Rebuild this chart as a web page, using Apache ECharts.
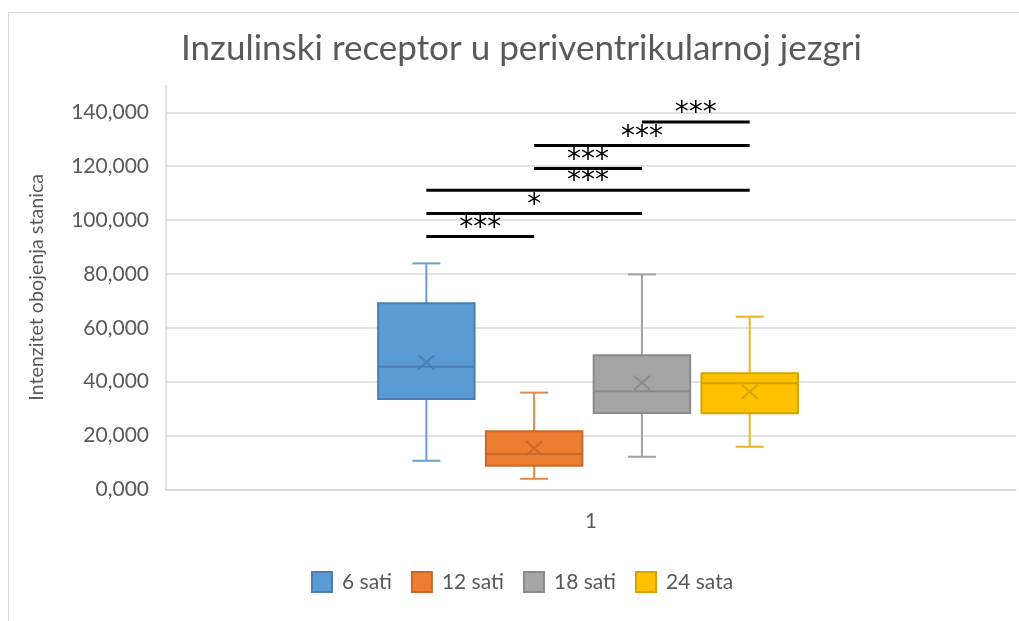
<!DOCTYPE html>
<html><head><meta charset="utf-8">
<script src="https://cdn.jsdelivr.net/npm/echarts@6/dist/echarts.min.js"></script>
<style>html,body{margin:0;padding:0;background:#fff}#c{width:1019px;height:621px}</style>
</head><body><div id="c"></div>
<script>
// ---- data ----
const categories = ['1'];
const seriesNames = ['6 sati', '12 sati', '18 sati', '24 sata'];
const minVals    = [10.6, 3.9, 12.1, 15.8];
const q1Vals     = [33.5, 8.7, 28.3, 28.2];
const medianVals = [45.5, 13.1, 36.4, 39.4];
const q3Vals     = [69.1, 21.6, 49.8, 43.1];
const maxVals    = [83.9, 35.9, 79.8, 64.1];
const meanVals   = [47.2, 15.2, 39.6, 36.2];
const yMin = 0, yMax = 150, yInterval = 20;
// significance brackets
const sigFrom  = [0, 0, 0, 1, 1, 2];
const sigTo    = [1, 2, 3, 2, 3, 3];
const sigLevel = [93.9, 102.4, 111.1, 119.1, 127.7, 136.4];
const sigLabel = ['***', '*', '***', '***', '***', '***'];

// ---- styles ----
const fills   = ['#5B9BD5', '#ED7D31', '#A5A5A5', '#FFC000'];
const borders = ['#4A7FB4', '#C9692A', '#8A8A8A', '#D6A200'];
const whisk   = ['#6A9DCF', '#E08A50', '#A0A0A0', '#E8B420'];
const SPACING = 0.1268, BOXW = 0.1135, CAPW = 0.033, SHIFT = -0.0035;

function centerX(api, i) {
  const band = api.size([1, 0])[0];
  return api.coord([0, 0])[0] + ((i - 1.5) * SPACING + SHIFT) * band;
}

function boxRender(i) {
  return function (params, api) {
    const band = api.size([1, 0])[0];
    const cx = centerX(api, i);
    const bw = BOXW * band, cap = CAPW * band;
    const y = k => api.coord([0, api.value(k)])[1];
    const yMn = y(1), yQ1 = y(2), yMd = y(3), yQ3 = y(4), yMx = y(5), yMe = y(6);
    const ln = (x1, y1, x2, y2, c, w) => ({ type: 'line', shape: { x1, y1, x2, y2 }, style: { stroke: c, lineWidth: w } });
    const xs = 8, ys = 7;
    return {
      type: 'group',
      children: [
        ln(cx, yQ3, cx, yMx, whisk[i], 2),
        ln(cx - cap / 2, yMx, cx + cap / 2, yMx, whisk[i], 2),
        ln(cx, yQ1, cx, yMn, whisk[i], 2),
        ln(cx - cap / 2, yMn, cx + cap / 2, yMn, whisk[i], 2),
        { type: 'rect', shape: { x: cx - bw / 2, y: yQ3, width: bw, height: yQ1 - yQ3 },
          style: { fill: fills[i], stroke: borders[i], lineWidth: 2 } },
        ln(cx - bw / 2, yMd, cx + bw / 2, yMd, borders[i], 2),
        ln(cx - xs, yMe - ys, cx + xs, yMe + ys, borders[i], 2),
        ln(cx - xs, yMe + ys, cx + xs, yMe - ys, borders[i], 2)
      ]
    };
  };
}

function sigRender(params, api) {
  const k = params.dataIndex;
  const x1 = centerX(api, api.value(2));
  const x2 = centerX(api, api.value(3));
  const yy = api.coord([0, api.value(1)])[1];
  return {
    type: 'group',
    children: [
      { type: 'line', shape: { x1, y1: yy, x2, y2: yy }, style: { stroke: '#000', lineWidth: 3 } },
      { type: 'text', x: (x1 + x2) / 2, y: yy + 6,
        style: { text: sigLabel[k], textAlign: 'center', textVerticalAlign: 'bottom',
                 font: '28px "DejaVu Sans"', fill: '#000' } }
    ]
  };
}

const series = seriesNames.map((name, i) => ({
  type: 'custom',
  name,
  renderItem: boxRender(i),
  itemStyle: { color: fills[i], borderColor: borders[i], borderWidth: 1.5 },
  encode: { x: 0, y: [1, 2, 3, 4, 5] },
  clip: false,
  data: [[0, minVals[i], q1Vals[i], medianVals[i], q3Vals[i], maxVals[i], meanVals[i]]]
}));
series.push({
  type: 'custom',
  name: 'sig',
  renderItem: sigRender,
  encode: { x: 0, y: 1 },
  clip: false,
  silent: true,
  data: sigLevel.map((lv, k) => [0, lv, sigFrom[k], sigTo[k]])
});

const chart = echarts.init(document.getElementById('c'));
chart.setOption({
  animation: false,
  backgroundColor: '#fff',
  title: {
    text: 'Inzulinski receptor u periventrikularnoj jezgri',
    left: 176, top: 26,
    textStyle: { fontFamily: 'Lato', fontSize: 35, fontWeight: 'normal', color: '#595959' }
  },
  graphic: [{
    type: 'rect', shape: { x: 8.5, y: 12.5, width: 1100, height: 700 },
    style: { fill: 'none', stroke: '#d9d9d9', lineWidth: 1 }, silent: true, z: -1
  }],
  grid: { left: 166, right: 3, top: 85.4, bottom: 131.7, containLabel: false, outerBoundsMode: 'none' },
  legend: {
    data: seriesNames, left: 311, top: 571, padding: 0, itemWidth: 20, itemHeight: 20, itemGap: 19, icon: 'rect',
    textStyle: { fontFamily: 'Lato', fontSize: 21, color: '#595959', padding: [0, 0, 0, 5] }
  },
  xAxis: {
    type: 'category', data: categories,
    axisLine: { lineStyle: { color: '#d9d9d9', width: 1.5 } },
    axisTick: { show: false },
    axisLabel: { fontFamily: 'Lato', fontSize: 20.5, color: '#595959', margin: 22 },
    splitLine: { show: false }
  },
  yAxis: {
    type: 'value', min: yMin, max: yMax, interval: yInterval,
    name: 'Intenzitet obojenja stanica', nameLocation: 'middle', nameRotate: 90, nameGap: 119,
    nameTextStyle: { fontFamily: 'Lato', fontSize: 19.7, color: '#595959' },
    axisLine: { show: true, lineStyle: { color: '#d9d9d9', width: 1.5 } },
    axisTick: { show: false },
    axisLabel: { fontFamily: 'Lato', fontSize: 21, color: '#595959', margin: 17, showMaxLabel: false,
      formatter: v => v.toFixed(3).replace('.', ',') },
    splitLine: { show: true, showMaxLine: false, lineStyle: { color: '#d9d9d9', width: 1.5 } }
  },
  series
});
</script></body></html>
